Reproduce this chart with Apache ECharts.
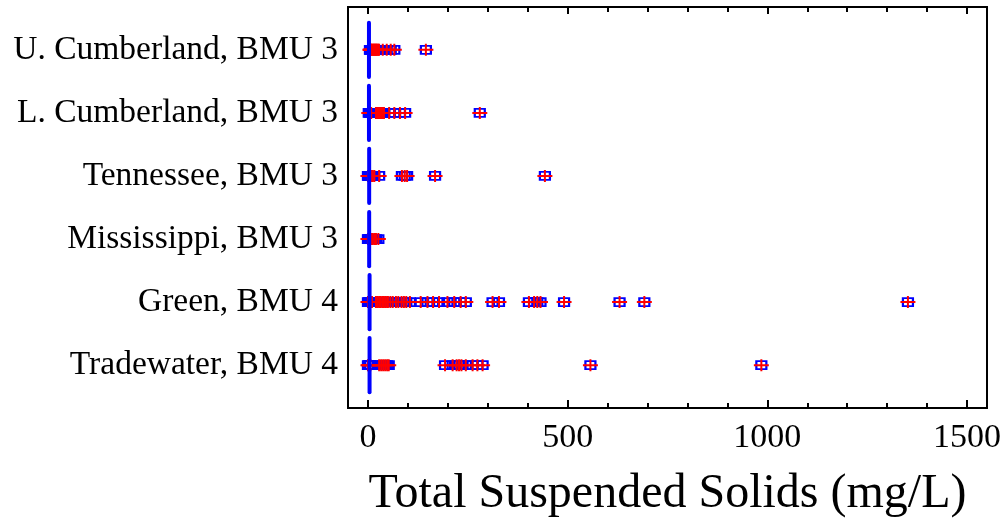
<!DOCTYPE html>
<html>
<head>
<meta charset="utf-8">
<script src="https://cdn.jsdelivr.net/npm/echarts@6/dist/echarts.min.js"></script>
<style>
  html, body { margin: 0; padding: 0; background: #fff; }
  #chart { width: 1005px; height: 522px; }
</style>
</head>
<body>
<div id="chart"></div>
<script>
// Monitoring sites, listed top to bottom
const rivers = [
  'U. Cumberland, BMU 3',
  'L. Cumberland, BMU 3',
  'Tennessee, BMU 3',
  'Mississippi, BMU 3',
  'Green, BMU 4',
  'Tradewater, BMU 4'
];
const rowPositions = [1, 2, 3, 4, 5, 6];

// Total suspended solids samples (mg/L) for each site
const uCumberland = [5, 6, 7, 8, 10, 12, 14, 15, 17, 19, 20, 22, 24, 26, 28, 37, 47, 57, 66, 145];
const lCumberland = [2, 4, 5, 8, 20, 23, 26, 29, 32, 35, 38, 40, 53, 66, 80, 93, 280];
const tennessee = [0, 1, 2, 3, 5, 8, 10, 12, 16, 28, 85, 92, 98, 168, 443];
const mississippi = [0, 1, 3, 5, 8, 12, 16, 20, 26];
const green = [0, 2, 4, 6, 8, 10, 20, 24, 28, 32, 36, 40, 45, 50, 56, 62, 70, 76, 84, 90, 96, 105,
  132, 149, 163, 178, 199, 216, 232, 245, 312, 328, 403, 416, 424, 432, 491, 630, 692, 1352];
const tradewater = [0, 2, 4, 6, 28, 33, 38, 43, 48, 52, 193, 212, 222, 228, 234, 245, 262, 274, 287, 557, 985];

// Vertical reference mark drawn across each row
const lineValues = [2.5, 2.5, 3, 3, 4, 4];

// Axis ticks
const majorTicks = [0, 500, 1000, 1500];
const minorTicks = [0, 100, 200, 300, 400, 500, 600, 700, 800, 900, 1000, 1100, 1200, 1300, 1400, 1500];

const siteSamples = [uCumberland, lCumberland, tennessee, mississippi, green, tradewater];
const points = [];
siteSamples.forEach((vals, i) => {
  vals.forEach(v => points.push([v, rowPositions[i]]));
});
const refLines = lineValues.map((v, i) => [v, rowPositions[i]]);

const FONT = '"Liberation Serif", "Times New Roman", serif';
const X_MIN = -50, X_MAX = 1550;

const chart = echarts.init(document.getElementById('chart'), null, { renderer: 'canvas' });

function xAxisDef(position, ticks, len, withLabels) {
  return {
    type: 'value',
    position: position,
    min: X_MIN,
    max: X_MAX,
    axisLine: { show: true, onZero: false, lineStyle: { color: '#000', width: 2 } },
    axisTick: { show: true, inside: true, length: len, customValues: ticks, lineStyle: { color: '#000', width: 2 } },
    axisLabel: withLabels
      ? { show: true, customValues: majorTicks, formatter: v => String(v),
          fontFamily: FONT, fontSize: 34, color: '#000', margin: 13 }
      : { show: false },
    splitLine: { show: false },
    name: withLabels ? 'Total Suspended Solids (mg/L)' : '',
    nameLocation: 'middle',
    nameGap: 62,
    nameTextStyle: { fontFamily: FONT, fontSize: 48, color: '#000' }
  };
}

chart.setOption({
  animation: false,
  backgroundColor: '#fff',
  grid: { left: 348, right: 18, top: 7, bottom: 114, outerBoundsMode: 'none' },
  xAxis: [
    xAxisDef('bottom', majorTicks, 8, true),
    xAxisDef('bottom', minorTicks, 5, false),
    xAxisDef('top', majorTicks, 7, false),
    xAxisDef('top', minorTicks, 5, false)
  ],
  yAxis: [
    {
      type: 'value',
      position: 'left',
      inverse: true,
      min: 0.32,
      max: 6.68,
      axisLine: { show: true, onZero: false, lineStyle: { color: '#000', width: 2 } },
      axisTick: { show: false },
      splitLine: { show: false },
      axisLabel: {
        customValues: rowPositions,
        formatter: v => rivers[Math.round(v) - 1],
        fontFamily: FONT, fontSize: 33.5, color: '#000', margin: 10
      }
    },
    {
      type: 'value',
      position: 'right',
      inverse: true,
      min: 0.32,
      max: 6.68,
      axisLine: { show: true, onZero: false, lineStyle: { color: '#000', width: 2 } },
      axisTick: { show: false },
      axisLabel: { show: false },
      splitLine: { show: false }
    }
  ],
  series: [
    {
      type: 'scatter',
      xAxisIndex: 0, yAxisIndex: 0,
      data: points,
      symbol: 'rect',
      symbolSize: [10, 8],
      itemStyle: { color: 'rgba(0,0,0,0)', borderColor: '#0000ff', borderWidth: 2, opacity: 1 },
      z: 2
    },
    {
      type: 'scatter',
      xAxisIndex: 0, yAxisIndex: 0,
      data: points,
      symbol: 'path://M0,5h15v2h-15z M6.5,0h2v12h-2z',
      symbolSize: [15, 12],
      itemStyle: { color: '#ff0000', opacity: 1 },
      z: 3
    },
    {
      type: 'custom',
      xAxisIndex: 0, yAxisIndex: 0,
      data: refLines,
      z: 4,
      renderItem: (params, api) => {
        const v = api.value(0), r = api.value(1);
        const p1 = api.coord([v, r - 0.43]);
        const p2 = api.coord([v, r + 0.43]);
        return {
          type: 'line',
          shape: { x1: p1[0], y1: p1[1], x2: p2[0], y2: p2[1] },
          style: { stroke: '#0000ff', lineWidth: 4, lineCap: 'round' }
        };
      }
    }
  ]
});
</script>
</body>
</html>
